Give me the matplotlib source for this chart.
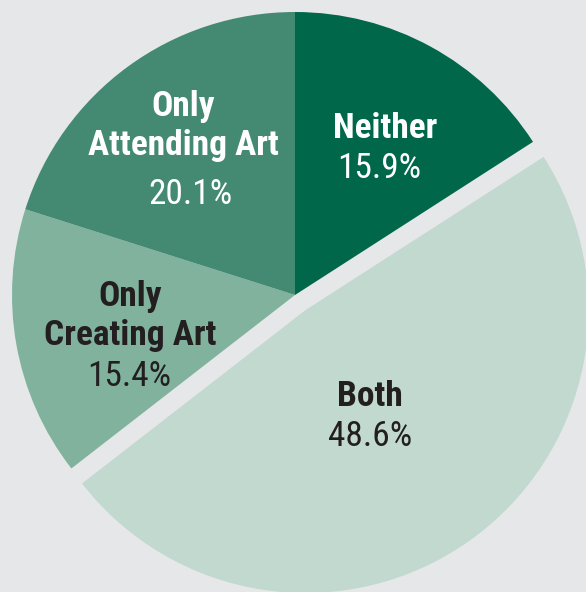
import matplotlib
matplotlib.use("Agg")
import matplotlib.pyplot as plt
from matplotlib import font_manager

# survey shares, clockwise from 12 o'clock
categories = ["Neither", "Both", "Only\nCreating Art", "Only\nAttending Art"]
shares = [15.9, 48.6, 15.4, 20.1]
colors = ["#00674a", "#c2d9cf", "#80b29e", "#448a72"]
text_colors = ["white", "#231f20", "#231f20", "white"]

# label anchor (pixel centres in the 586x592 picture): name line(s) y, percent y
label_x = [385, 370, 130, 183]
name_y = [129, 396, 316, 126]
pct_x = [379, 370, 129, 190]
pct_y = [168, 436, 376, 195]

W, H = 586, 592
CX, CY, R = 295, 295, 283

installed = {f.name for f in font_manager.fontManager.ttflist}
family = "DejaVu Sans"
for name in ["Roboto Condensed", "Liberation Sans Narrow", "DejaVu Sans Condensed", "Roboto"]:
    if name in installed:
        family = name
        break

fig = plt.figure(figsize=(W / 100, H / 100), dpi=100)
fig.patch.set_facecolor("#e6e7e8")
ax = fig.add_axes([0, 0, 1, 1])
ax.set_facecolor("#e6e7e8")

ax.pie(shares, colors=colors, startangle=90, counterclock=False,
       explode=[0, 0.065, 0, 0], radius=1,
       wedgeprops=dict(linewidth=0, antialiased=True))

ax.set_xlim(-CX / R, (W - CX) / R)
ax.set_ylim((CY - H) / R, CY / R)
ax.set_aspect("auto")
ax.axis("off")


def px(x, y):
    return (x - CX) / R, (CY - y) / R


for i, cat in enumerate(categories):
    x, y = px(label_x[i], name_y[i])
    ax.text(x, y, cat, ha="center", va="center", fontsize=25.5, fontweight="bold",
            color=text_colors[i], family=family, linespacing=1.2)
    x, y = px(pct_x[i], pct_y[i])
    ax.text(x, y, f"{shares[i]:.1f}%", ha="center", va="center", fontsize=25.5,
            color=text_colors[i], family=family)

fig.savefig("out.png", dpi=100, facecolor=fig.get_facecolor())
